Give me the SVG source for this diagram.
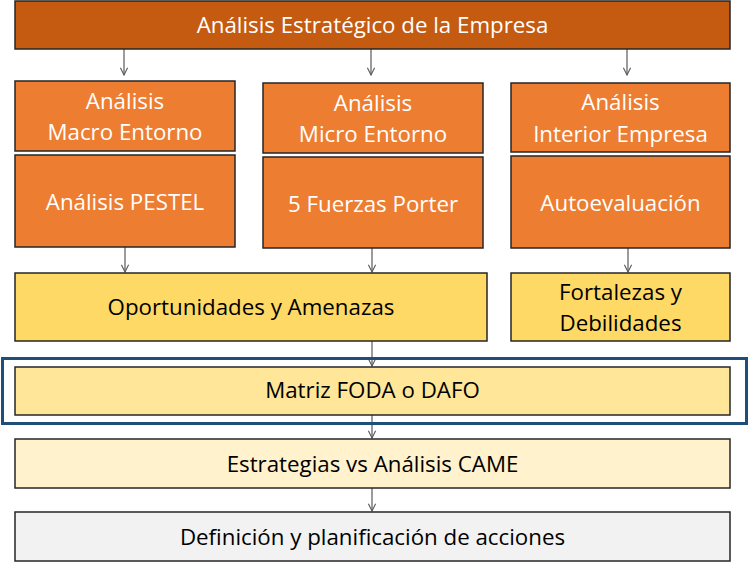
<svg xmlns="http://www.w3.org/2000/svg" width="750" height="568" viewBox="0 0 750 568">
<style>
.box{stroke:#262626;stroke-width:1.5}
.t{font-family:"Open Sans","Noto Sans",sans-serif;font-size:22.3px;text-anchor:middle}
.w{fill:#ffffff}
.k{fill:#000000}
.c{stroke:#595959;stroke-width:1.2;fill:none}
</style>
<defs>
<marker id="ah" viewBox="0 0 10 10" refX="9" refY="5" markerWidth="9" markerHeight="9" orient="auto" markerUnits="userSpaceOnUse">
<path d="M1,1 L9,5 L1,9" fill="none" stroke="#595959" stroke-width="1.2"/>
</marker>
</defs>
<rect width="750" height="568" fill="#ffffff"/>
<g id="connectors">
<path class="c" d="M124,49 V75" marker-end="url(#ah)"/>
<path class="c" d="M371,49 V75" marker-end="url(#ah)"/>
<path class="c" d="M627,49 V75" marker-end="url(#ah)"/>
<path class="c" d="M125,247 V272" marker-end="url(#ah)"/>
<path class="c" d="M372,248 V272" marker-end="url(#ah)"/>
<path class="c" d="M628,248 V272" marker-end="url(#ah)"/>
<path class="c" d="M372,341 V366" marker-end="url(#ah)"/>
<path class="c" d="M372,415 V438" marker-end="url(#ah)"/>
<path class="c" d="M372,488 V511" marker-end="url(#ah)"/>
</g>
<g id="n-top">
<rect class="box" x="15" y="1" width="715" height="48" fill="#C55A11"/>
<text class="t w" x="372.5" y="33">Análisis Estratégico de la Empresa</text>
</g>
<g id="n-macro">
<rect class="box" x="15" y="81" width="220" height="70" fill="#ED7D31"/>
<text class="t w" x="125" y="109">Análisis</text>
<text class="t w" x="125" y="140">Macro Entorno</text>
</g>
<g id="n-pestel">
<rect class="box" x="15" y="155" width="220" height="92" fill="#ED7D31"/>
<text class="t w" x="125" y="210">Análisis PESTEL</text>
</g>
<g id="n-micro">
<rect class="box" x="263" y="83" width="220" height="70" fill="#ED7D31"/>
<text class="t w" x="373" y="111">Análisis</text>
<text class="t w" x="373" y="142">Micro Entorno</text>
</g>
<g id="n-porter">
<rect class="box" x="263" y="157" width="220" height="91" fill="#ED7D31"/>
<text class="t w" x="373" y="212">5 Fuerzas Porter</text>
</g>
<g id="n-interior">
<rect class="box" x="511" y="83" width="219" height="69" fill="#ED7D31"/>
<text class="t w" x="620.5" y="110">Análisis</text>
<text class="t w" x="620.5" y="142">Interior Empresa</text>
</g>
<g id="n-auto">
<rect class="box" x="511" y="156" width="219" height="92" fill="#ED7D31"/>
<text class="t w" x="620.5" y="211">Autoevaluación</text>
</g>
<g id="n-oa">
<rect class="box" x="15" y="273" width="472" height="68" fill="#FFD966"/>
<text class="t k" x="251" y="315">Oportunidades y Amenazas</text>
</g>
<g id="n-fd">
<rect class="box" x="511" y="273" width="219" height="68" fill="#FFD966"/>
<text class="t k" x="620.5" y="300">Fortalezas y</text>
<text class="t k" x="620.5" y="331">Debilidades</text>
</g>
<g id="n-highlight">
<rect x="2.5" y="358.5" width="744" height="65" fill="none" stroke="#1F4E79" stroke-width="3"/>
</g>
<g id="n-matriz">
<rect class="box" x="15" y="367" width="715" height="48" fill="#FFE699"/>
<text class="t k" x="372.5" y="398">Matriz FODA o DAFO</text>
</g>
<g id="n-came">
<rect class="box" x="15" y="439" width="715" height="49" fill="#FFF2CC"/>
<text class="t k" x="372.5" y="472">Estrategias vs Análisis CAME</text>
</g>
<g id="n-acciones">
<rect class="box" x="15" y="512" width="715" height="49" fill="#F2F2F2"/>
<text class="t k" x="372.5" y="545">Definición y planificación de acciones</text>
</g>
</svg>
